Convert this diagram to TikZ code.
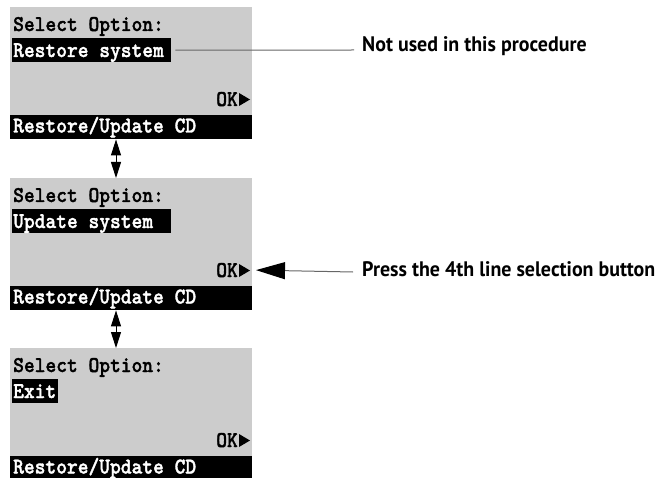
\documentclass[tikz,border=0pt]{standalone}
\usepackage{fontspec}
\setsansfont{PT Sans}
\newfontfamily\lcd{lmmonolt10-bold}[Extension=.otf,FakeBold=1.6]
\usetikzlibrary{arrows.meta}
\definecolor{lcdgray}{HTML}{CCCCCC}
\definecolor{leader}{HTML}{666666}
\begin{document}
\begin{tikzpicture}[x=1pt,y=-1pt,
  screen/.style={fill=lcdgray, inner sep=0pt, minimum width=242pt, minimum height=108pt, anchor=north west},
  bar/.style={fill=black, inner sep=0pt, minimum width=242pt, minimum height=24pt, anchor=north west},
  hl/.style={fill=black, inner sep=0pt, minimum height=24pt, anchor=north west},
  lcdtxt/.style={font=\fontsize{20.5}{24}\lcd, inner sep=0pt, anchor=base west},
  lab/.style={font=\fontsize{21}{24}\selectfont\sffamily\bfseries, inner sep=0pt, anchor=base west},
  leaderline/.style={draw=leader, line width=1pt},
  dblarrow/.style={line width=1pt, {Triangle[length=16pt,width=10pt]}-{Triangle[length=16pt,width=10pt]}},
]
\useasboundingbox (0,0) rectangle (660,478);
\foreach \i/\t/\opt/\w in {1/7/Restore system/159, 2/178/Update system/159, 3/348/Exit/46}{
  \node[screen] (s\i) at (10,\t) {};
  \node[bar] (b\i) at (10,\t+108) {};
  \node[hl, minimum width=\w pt] (h\i) at (12,\t+31) {};
  \node[lcdtxt] (sel\i) at (13,\t+24) {\scalebox{1}[1.1]{Select Option:}};
  \node[lcdtxt, text=white] (o\i) at (13,\t+50) {\scalebox{1}[1.1]{\opt}};
  \node[lcdtxt, anchor=base east] (ok\i) at (238,\t+99) {\scalebox{1}[1.1]{OK}};
  \fill (239,\t+86) -- (250,\t+92.5) -- (239,\t+99) -- cycle;
  \node[lcdtxt, text=white] (bt\i) at (13,\t+125.5) {\scalebox{1}[1.1]{Restore/Update CD}};
}
\coordinate (ax) at (116,0);
\draw[dblarrow] (b1.south -| ax) -- (s2.north -| ax);
\draw[dblarrow] (b2.south -| ax) -- (s3.north -| ax);
\node[lab] (l1) at (362,52) {\scalebox{0.95}[1]{Not used in this procedure}};
\node[lab] (l2) at (362,276) {\scalebox{0.95}[1]{Press the 4th line selection button}};
\coordinate (e1) at (354,50);
\coordinate (e2) at (353,272);
\draw[leaderline] ([xshift=4pt]h1.east) -- (e1);
\draw[leaderline, -{Triangle[length=29pt,width=17pt,color=black]}] (e2) -- (256,272 |- ok2.east);
\end{tikzpicture}
\end{document}
